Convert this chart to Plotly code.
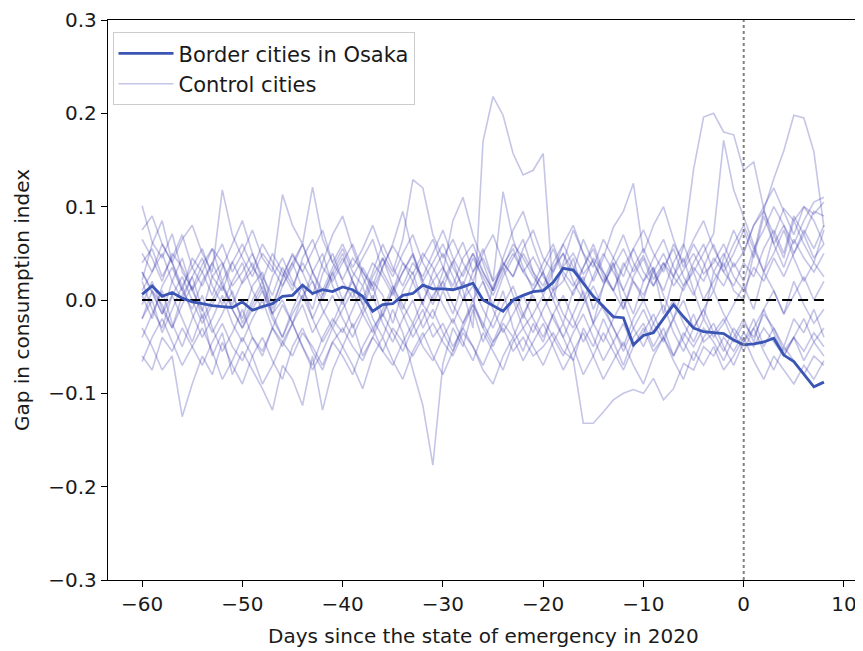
import numpy as np
import plotly.graph_objects as go

# days relative to the state of emergency
days = list(range(-60, 9))

# Border cities in Osaka (gap in consumption index)
border_osaka = [
    0.006, 0.015, 0.004, 0.008, 0.002, -0.002, -0.004, -0.006, -0.007, -0.008,
    -0.002, -0.011, -0.007, -0.004, 0.004, 0.005, 0.016, 0.007, 0.011, 0.009,
    0.014, 0.011, 0.004, -0.012, -0.005, -0.004, 0.005, 0.007, 0.016, 0.012,
    0.012, 0.011, 0.014, 0.018, 0.000, -0.006, -0.012, 0.000, 0.005, 0.009,
    0.010, 0.019, 0.034, 0.032, 0.018, 0.004, -0.007, -0.018, -0.019, -0.048,
    -0.038, -0.035, -0.020, -0.005, -0.018, -0.030, -0.034, -0.035, -0.036, -0.043,
    -0.048, -0.047, -0.045, -0.041, -0.059, -0.066, -0.079, -0.093, -0.088,
]

# control cities, one list each
control_01 = [
    0.101, 0.062, 0.045, 0.071, 0.030, 0.012, 0.038, 0.055, 0.020, 0.041,
    0.018, 0.032, 0.060, 0.041, 0.025, 0.048, 0.030, 0.052, 0.075, 0.040,
    0.022, 0.045, 0.031, 0.010, 0.036, 0.058, 0.040, 0.028, 0.050, 0.035,
    0.012, 0.040, 0.062, 0.030, 0.045, 0.020, 0.038, 0.055, 0.030, 0.046,
    0.025, 0.010, 0.036, 0.050, 0.028, 0.042, 0.018, 0.035, 0.055, 0.030,
    0.048, 0.022, 0.040, 0.015, 0.032, 0.050, 0.028, 0.040, 0.060, 0.035,
    0.052, 0.080, 0.095, 0.070, 0.098, 0.085, 0.100, 0.092, 0.105,
]
control_02 = [
    0.030, 0.008, -0.015, 0.020, 0.045, 0.010, -0.012, 0.025, 0.040, 0.005,
    -0.020, 0.015, 0.030, -0.005, 0.022, 0.040, 0.012, -0.010, 0.028, 0.050,
    0.020, 0.002, 0.035, 0.015, -0.018, 0.010, 0.030, 0.048, 0.015, -0.005,
    0.020, 0.042, 0.010, -0.030, 0.170, 0.218, 0.198, 0.157, 0.134, 0.139,
    0.157, 0.010, 0.020, 0.045, 0.005, -0.025, 0.015, 0.040, -0.010, 0.020,
    0.000, 0.035, -0.015, 0.025, 0.045, 0.010, -0.020, 0.030, 0.015, 0.040,
    0.020, 0.055, 0.030, 0.070, 0.045, 0.085, 0.060, 0.040, 0.075,
]
control_03 = [
    -0.040, -0.015, 0.010, -0.025, -0.050, -0.020, 0.005, -0.030, -0.055, -0.035,
    -0.010, -0.040, -0.060, -0.030, -0.005, -0.025, -0.050, -0.070, -0.040, -0.020,
    -0.035, -0.010, 0.015, -0.020, -0.040, -0.010, -0.035, -0.075, -0.113, -0.177,
    -0.068, -0.030, -0.050, -0.010, -0.045, -0.020, 0.010, -0.030, -0.055, -0.025,
    -0.045, -0.015, -0.040, -0.065, -0.030, -0.050, -0.020, -0.045, -0.070, -0.040,
    -0.025, -0.050, -0.030, -0.060, -0.040, -0.015, -0.045, -0.035, -0.055, -0.030,
    -0.045, -0.020, -0.050, -0.030, -0.055, -0.040, -0.065, -0.045, -0.060,
]
control_04 = [
    0.050, 0.030, 0.060, 0.040, 0.015, 0.035, 0.055, 0.025, 0.010, 0.040,
    0.060, 0.035, 0.020, 0.050, 0.030, 0.010, 0.045, 0.065, 0.035, 0.020,
    0.040, 0.060, 0.030, 0.015, 0.045, 0.025, 0.050, 0.070, 0.040, 0.020,
    0.035, 0.015, 0.045, 0.060, 0.030, 0.010, 0.040, 0.025, 0.050, 0.030,
    0.015, 0.040, 0.060, 0.035, 0.020, 0.045, 0.030, 0.010, 0.035, 0.055,
    0.030, 0.015, 0.040, 0.025, 0.057, 0.140, 0.196, 0.200, 0.180, 0.177,
    0.139, 0.148, 0.098, 0.060, 0.080, 0.050, 0.070, 0.045, 0.060,
]
control_05 = [
    -0.020, 0.010, -0.005, -0.030, 0.005, 0.025, -0.010, -0.035, -0.015, 0.010,
    -0.025, 0.000, 0.020, -0.015, -0.040, -0.010, 0.015, -0.020, 0.005, 0.030,
    0.000, -0.030, -0.010, 0.020, 0.005, -0.025, 0.010, 0.030, -0.005, -0.020,
    0.010, -0.015, 0.020, 0.000, -0.030, 0.015, 0.035, 0.005, -0.020, 0.010,
    0.030, 0.000, -0.025, 0.010, 0.025, -0.010, 0.015, 0.040, 0.010, -0.015,
    0.020, 0.035, 0.005, -0.020, 0.015, 0.030, 0.000, 0.020, 0.040, 0.010,
    0.000, 0.050, 0.096, 0.130, 0.160, 0.198, 0.195, 0.159, 0.078,
]
control_06 = [
    -0.060, -0.075, -0.040, -0.055, -0.030, -0.050, -0.070, -0.045, -0.025, -0.050,
    -0.065, -0.040, -0.055, -0.030, -0.045, -0.060, -0.035, -0.050, -0.070, -0.045,
    -0.030, -0.050, -0.065, -0.040, -0.055, -0.030, -0.045, -0.060, -0.040, -0.025,
    -0.045, -0.060, -0.035, -0.050, -0.070, -0.045, -0.030, -0.055, -0.040, -0.060,
    -0.050, -0.035, -0.055, -0.064, -0.132, -0.132, -0.120, -0.107, -0.100, -0.096,
    -0.100, -0.084, -0.107, -0.095, -0.068, -0.075, -0.050, -0.060, -0.040, -0.055,
    -0.035, -0.050, -0.030, -0.045, -0.060, -0.040, -0.055, -0.035, -0.050,
]
control_07 = [
    0.075, 0.090, 0.060, 0.040, 0.065, 0.080, 0.050, 0.030, 0.118, 0.070,
    0.045, 0.025, 0.050, 0.035, 0.015, 0.040, 0.060, 0.030, 0.010, 0.035,
    0.055, 0.030, 0.015, 0.040, 0.025, 0.005, 0.030, 0.050, 0.020, 0.040,
    0.060, 0.035, 0.015, 0.045, 0.025, 0.005, 0.030, 0.050, 0.030, 0.015,
    0.040, 0.060, 0.030, 0.015, 0.035, 0.055, 0.025, 0.010, 0.040, 0.020,
    0.005, 0.030, 0.050, 0.025, 0.010, 0.035, 0.020, 0.045, 0.030, 0.015,
    0.040, 0.025, 0.055, 0.075, 0.050, 0.090, 0.070, 0.095, 0.090,
]
control_08 = [
    -0.030, -0.050, -0.075, -0.060, -0.125, -0.090, -0.060, -0.080, -0.045, -0.070,
    -0.090, -0.060, -0.040, -0.065, -0.085, -0.050, -0.030, -0.055, -0.075, -0.045,
    -0.060, -0.080, -0.050, -0.030, -0.055, -0.070, -0.045, -0.025, -0.050, -0.065,
    -0.040, -0.020, -0.045, -0.065, -0.035, -0.055, -0.075, -0.045, -0.030, -0.050,
    -0.070, -0.045, -0.025, -0.050, -0.080, -0.060, -0.035, -0.055, -0.075, -0.050,
    -0.030, -0.055, -0.040, -0.020, -0.045, -0.065, -0.040, -0.025, -0.050, -0.070,
    -0.045, -0.030, -0.055, -0.075, -0.050, -0.065, -0.080, -0.060, -0.070,
]
control_09 = [
    0.020, -0.010, -0.030, 0.005, -0.020, -0.045, -0.015, -0.060, -0.035, -0.080,
    -0.055, -0.075, -0.095, -0.118, -0.070, -0.085, -0.113, -0.060, -0.118, -0.075,
    -0.050, -0.025, -0.060, -0.040, -0.015, -0.035, -0.055, -0.030, -0.010, -0.040,
    -0.025, -0.050, -0.030, -0.005, -0.025, -0.045, -0.020, 0.000, -0.030, -0.015,
    0.005, -0.020, -0.040, -0.015, 0.010, -0.025, -0.045, -0.020, 0.000, -0.030,
    -0.050, -0.025, -0.005, -0.035, -0.055, -0.030, -0.010, -0.035, -0.020, -0.045,
    -0.025, -0.040, -0.015, -0.030, -0.050, -0.020, -0.035, -0.010, -0.040,
]
control_10 = [
    0.040, 0.055, 0.025, 0.045, 0.070, 0.035, 0.015, 0.040, 0.060, 0.030,
    0.050, 0.075, 0.045, 0.030, 0.113, 0.080, 0.060, 0.121, 0.065, 0.040,
    0.060, 0.035, 0.055, 0.080, 0.050, 0.030, 0.065, 0.129, 0.120, 0.070,
    0.045, 0.065, 0.040, 0.020, 0.050, 0.070, 0.040, 0.025, 0.055, 0.075,
    0.045, 0.030, 0.060, 0.080, 0.050, 0.035, 0.065, 0.045, 0.025, 0.055,
    0.075, 0.050, 0.030, 0.060, 0.040, 0.065, 0.085, 0.055, 0.035, 0.060,
    0.080, 0.055, 0.075, 0.100, 0.080, 0.060, 0.085, 0.105, 0.110,
]
control_11 = [
    0.010, 0.030, 0.050, 0.020, 0.000, 0.025, 0.045, 0.015, -0.005, 0.020,
    0.040, 0.010, -0.010, 0.025, 0.045, 0.020, 0.000, 0.030, 0.050, 0.015,
    -0.005, 0.025, 0.045, 0.065, 0.030, 0.010, 0.040, 0.020, -0.005, 0.030,
    0.050, 0.025, 0.000, 0.030, 0.055, 0.020, 0.116, 0.065, 0.035, 0.010,
    0.030, 0.055, 0.025, 0.005, 0.035, 0.060, 0.030, 0.010, -0.010, 0.025,
    0.045, 0.015, 0.035, 0.055, 0.025, 0.005, 0.035, 0.060, 0.030, 0.050,
    0.075, 0.045, 0.090, 0.060, 0.035, 0.065, 0.045, 0.030, 0.050,
]
control_12 = [
    -0.020, 0.000, -0.035, -0.010, 0.015, -0.015, -0.040, -0.020, 0.005, -0.025,
    -0.045, -0.020, 0.000, -0.030, -0.050, -0.025, -0.005, -0.035, -0.015, 0.005,
    -0.020, -0.040, -0.015, 0.005, -0.025, -0.045, -0.020, 0.000, -0.030, -0.010,
    -0.035, -0.055, -0.025, -0.005, -0.030, -0.050, -0.025, -0.040, -0.015, 0.005,
    -0.020, -0.040, -0.060, -0.035, -0.015, -0.040, -0.065, -0.045, -0.025, -0.050,
    -0.035, -0.015, -0.040, -0.060, -0.035, -0.050, -0.030, -0.045, -0.065, -0.040,
    -0.020, -0.045, -0.010, 0.010, -0.015, 0.020, -0.005, -0.025, -0.010,
]
control_13 = [
    0.065, 0.045, 0.020, 0.050, 0.035, 0.010, 0.030, 0.055, 0.040, 0.015,
    0.030, 0.050, 0.025, 0.005, 0.035, 0.015, 0.040, 0.020, 0.000, 0.025,
    0.045, 0.020, 0.000, 0.030, 0.060, 0.035, 0.015, 0.040, 0.025, 0.050,
    0.075, 0.045, 0.025, 0.050, 0.030, 0.010, 0.035, 0.060, 0.045, 0.025,
    0.010, 0.035, 0.050, 0.030, 0.065, 0.040, 0.020, 0.045, 0.070, 0.040,
    0.020, 0.045, 0.065, 0.035, 0.015, 0.040, 0.060, 0.030, 0.050, 0.025,
    0.010, 0.035, 0.020, 0.045, 0.025, 0.050, 0.075, 0.055, 0.080,
]
control_14 = [
    -0.005, 0.020, -0.010, -0.030, -0.005, 0.015, -0.020, 0.000, 0.020, -0.010,
    -0.030, -0.005, 0.015, -0.015, 0.000, -0.025, 0.005, 0.020, -0.010, -0.030,
    -0.010, 0.010, -0.015, -0.035, -0.010, 0.015, -0.005, -0.025, 0.000, 0.020,
    -0.005, -0.025, 0.000, 0.015, -0.010, -0.030, -0.005, 0.015, -0.015, -0.035,
    -0.010, 0.010, -0.015, -0.030, -0.005, 0.015, -0.010, -0.030, -0.050, -0.020,
    0.000, -0.025, -0.045, -0.020, 0.000, -0.030, -0.010, 0.010, -0.015, -0.035,
    -0.055, -0.030, -0.010, -0.035, -0.060, -0.040, -0.020, -0.045, -0.030,
]
control_15 = [
    0.021, 0.060, 0.085, 0.040, 0.010, 0.045, 0.030, 0.005, 0.035, 0.060,
    0.085, 0.050, 0.020, -0.010, 0.025, 0.050, 0.030, 0.005, 0.040, 0.070,
    0.090, 0.055, 0.025, 0.000, 0.035, 0.060, 0.095, 0.050, 0.020, 0.000,
    0.030, 0.085, 0.110, 0.070, 0.040, 0.010, 0.045, 0.075, 0.095, 0.060,
    0.030, 0.000, 0.040, 0.075, 0.050, 0.020, 0.045, 0.078, 0.095, 0.125,
    0.050, 0.080, 0.100, 0.065, 0.035, 0.060, 0.040, 0.010, 0.045, 0.075,
    0.050, 0.080, 0.100, 0.120, 0.095, 0.070, 0.100, 0.085, 0.060,
]
control_16 = [
    -0.066, -0.040, -0.020, -0.045, -0.070, -0.050, -0.030, -0.055, -0.085, -0.065,
    -0.040, -0.060, -0.090, -0.070, -0.045, -0.025, -0.050, -0.075, -0.055, -0.030,
    -0.050, -0.070, -0.095, -0.060, -0.040, -0.065, -0.085, -0.055, -0.035, -0.060,
    -0.080, -0.055, -0.030, -0.050, -0.075, -0.090, -0.060, -0.040, -0.065, -0.045,
    -0.025, -0.050, -0.075, -0.055, -0.035, -0.060, -0.085, -0.065, -0.045, -0.070,
    -0.090, -0.060, -0.040, -0.065, -0.085, -0.055, -0.070, -0.050, -0.075, -0.060,
    -0.040, -0.065, -0.085, -0.060, -0.075, -0.090, -0.070, -0.085, -0.065,
]
control_17 = [
    0.005, -0.020, 0.015, 0.035, 0.010, -0.010, 0.020, 0.040, 0.015, -0.005,
    0.020, 0.040, 0.010, -0.015, 0.015, 0.035, 0.060, 0.030, 0.005, 0.030,
    0.050, 0.020, -0.005, 0.025, 0.045, 0.015, -0.010, 0.020, 0.045, 0.065,
    0.035, 0.010, 0.030, 0.050, 0.020, -0.005, 0.025, 0.045, 0.065, 0.030,
    0.005, 0.030, 0.050, 0.020, 0.000, 0.025, 0.050, 0.030, 0.010, 0.035,
    0.055, 0.030, 0.010, 0.040, 0.060, 0.030, 0.050, 0.071, 0.171, 0.118,
    0.089, 0.060, 0.030, 0.050, 0.075, 0.045, 0.020, 0.040, 0.025,
]
control_18 = [
    0.030, 0.010, -0.015, 0.005, 0.025, 0.000, -0.025, -0.005, 0.015, -0.010,
    -0.030, -0.010, 0.010, -0.020, -0.040, -0.015, 0.005, -0.020, -0.045, -0.025,
    0.000, 0.020, -0.005, -0.030, -0.015, 0.010, -0.015, -0.040, -0.020, 0.005,
    0.020, -0.005, -0.025, 0.000, 0.020, -0.010, -0.035, -0.015, 0.005, -0.020,
    -0.040, -0.015, 0.005, -0.020, -0.045, -0.025, -0.005, -0.030, -0.055, -0.030,
    -0.010, -0.035, -0.020, 0.000, -0.025, -0.045, -0.020, -0.040, -0.025, -0.005,
    0.015, -0.010, 0.030, 0.010, -0.015, 0.005, 0.025, 0.000, 0.020,
]

controls = [
    control_01, control_02, control_03, control_04, control_05, control_06,
    control_07, control_08, control_09, control_10, control_11, control_12,
    control_13, control_14, control_15, control_16, control_17, control_18,
]

y_ticks = [-0.3, -0.2, -0.1, 0.0, 0.1, 0.2, 0.3]
x_ticks = [-60, -50, -40, -30, -20, -10, 0, 10]

FONT = "DejaVu Sans"
CTRL_COLOR = "rgba(45,45,170,0.28)"
MAIN_COLOR = "#3a55b4"

fig = go.Figure()

# control cities (one legend entry for the whole group)
for i, c in enumerate(controls):
    fig.add_trace(go.Scatter(
        x=days, y=c, mode="lines",
        line=dict(color=CTRL_COLOR, width=1.6),
        name="Control cities", legendgroup="ctrl",
        showlegend=(i == 0), legendrank=2,
    ))

# zero reference
fig.add_trace(go.Scatter(
    x=[days[0], days[-1]], y=[0, 0], mode="lines",
    line=dict(color="black", width=2.2, dash="10px,6px"),
    showlegend=False, hoverinfo="skip",
))

fig.add_trace(go.Scatter(
    x=days, y=border_osaka, mode="lines",
    line=dict(color=MAIN_COLOR, width=2.8),
    name="Border cities in Osaka", legendrank=1,
))

# state of emergency day
fig.add_vline(x=0, line=dict(color="gray", width=2, dash="dot"))

def fmt(v, nd=1):
    s = f"{abs(v):.{nd}f}"
    return ("\u2212" + s) if v < 0 else s

# the page body adds an 8px offset, so margins are shifted to compensate
fig.update_layout(
    width=863, height=651,
    margin=dict(l=100, r=13, t=12, b=79),
    plot_bgcolor="white", paper_bgcolor="white",
    font=dict(family=FONT, size=20, color="#1a1a1a"),
    legend=dict(
        x=0.006, y=0.978, xanchor="left", yanchor="top",
        bgcolor="rgba(255,255,255,0.85)", bordercolor="#cccccc", borderwidth=1,
        font=dict(size=21), tracegroupgap=0, itemwidth=55,
    ),
    xaxis=dict(
        range=[-63.4, 11.4], tickvals=x_ticks, ticktext=[fmt(v, 0) for v in x_ticks],
        showgrid=False, zeroline=False, showline=True, linecolor="black", linewidth=1.3,
        mirror=True, ticks="outside", ticklen=6, tickcolor="black", automargin=False,
    ),
    yaxis=dict(
        range=[-0.3, 0.3], tickvals=y_ticks, ticktext=[fmt(v) for v in y_ticks],
        showgrid=False, zeroline=False, showline=True, linecolor="black", linewidth=1.3,
        mirror=True, ticks="outside", ticklen=6, tickcolor="black", automargin=False,
    ),
    annotations=[
        dict(text="Days since the state of emergency in 2020", xref="paper", yref="paper",
             x=0.5, y=0, xanchor="center", yanchor="middle", yshift=-56,
             showarrow=False, font=dict(size=20)),
        dict(text="Gap in consumption index", xref="paper", yref="paper",
             x=0, y=0.5, xanchor="center", yanchor="middle", xshift=-86, textangle=-90,
             showarrow=False, font=dict(size=20)),
    ],
)

fig.write_html("out.html")
